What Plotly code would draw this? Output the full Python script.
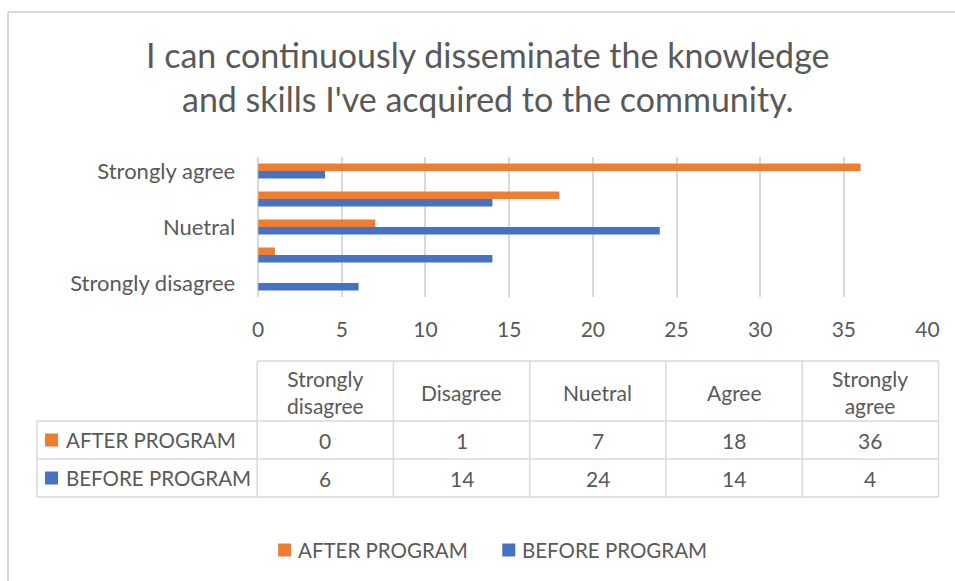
import plotly.graph_objects as go

# ---- data ----
categories = ["Strongly disagree", "Disagree", "Nuetral", "Agree", "Strongly agree"]
header_labels = ["Strongly<br>disagree", "Disagree", "Nuetral", "Agree", "Strongly<br>agree"]
labeled_categories = ["Strongly disagree", "Nuetral", "Strongly agree"]
after_values = [0, 1, 7, 18, 36]
before_values = [6, 14, 24, 14, 4]
series_names = ["AFTER PROGRAM", "BEFORE PROGRAM"]
x_ticks = [0, 5, 10, 15, 20, 25, 30, 35, 40]
title_text = "I can continuously disseminate the knowledge<br>and skills I've acquired to the community."

ORANGE = "#ED7D31"
BLUE = "#4472C4"
TEXT = "#595959"
GRID = "#D9D9D9"
FONT = "Lato, Carlito, Calibri, sans-serif"

W, H = 955, 581
XA, XB = 6.0, 0.9806  # observed horizontal mapping of the photographed page


def px(x):
    return ((x - XA) / XB) / W


def py(y):
    return 1 - y / H


fig = go.Figure()
# first trace drawn lowest inside each group -> BEFORE first so AFTER sits on top
fig.add_trace(go.Bar(y=categories, x=before_values, orientation="h", name=series_names[1],
                     marker=dict(color=BLUE, line=dict(width=0)), showlegend=False))
fig.add_trace(go.Bar(y=categories, x=after_values, orientation="h", name=series_names[0],
                     marker=dict(color=ORANGE, line=dict(width=0)), showlegend=False))

shapes = []
annotations = []

# outer chart border (top and left visible)
shapes.append(dict(type="line", xref="paper", yref="paper", x0=px(8), x1=px(990), y0=py(12), y1=py(12),
                   line=dict(color=GRID, width=2)))
shapes.append(dict(type="line", xref="paper", yref="paper", x0=px(8), x1=px(8), y0=py(12), y1=py(600),
                   line=dict(color=GRID, width=2)))

# ---- data table ----
tl, tc, tr = 37, 257, 938
t_top, t_head, t_mid, t_bot = 361, 421, 459, 497
ncol = len(categories)
colw = (tr - tc) / ncol
col_edges = [tc + i * colw for i in range(ncol + 1)]
line_style = dict(color=GRID, width=1.5)
shapes.append(dict(type="line", xref="paper", yref="paper", x0=px(tc), x1=px(tr), y0=py(t_top), y1=py(t_top), line=line_style))
for yy in (t_head, t_mid, t_bot):
    shapes.append(dict(type="line", xref="paper", yref="paper", x0=px(tl), x1=px(tr), y0=py(yy), y1=py(yy), line=line_style))
shapes.append(dict(type="line", xref="paper", yref="paper", x0=px(tl), x1=px(tl), y0=py(t_head), y1=py(t_bot), line=line_style))
for xe in col_edges:
    shapes.append(dict(type="line", xref="paper", yref="paper", x0=px(xe), x1=px(xe), y0=py(t_top), y1=py(t_bot), line=line_style))

cell_font = dict(family=FONT, size=21, color=TEXT)
upper_font = dict(family=FONT, size=20.5, color=TEXT)
for i, lab in enumerate(header_labels):
    cx = (col_edges[i] + col_edges[i + 1]) / 2
    annotations.append(dict(x=px(cx), y=py((t_top + t_head) / 2 + 1), xref="paper", yref="paper",
                            text=lab, showarrow=False, font=cell_font, xanchor="center", yanchor="middle"))
rows = [(series_names[0], after_values, ORANGE, (t_head + t_mid) / 2),
        (series_names[1], before_values, BLUE, (t_mid + t_bot) / 2)]
for name, vals, col, cy in rows:
    shapes.append(dict(type="rect", xref="paper", yref="paper", x0=px(45), x1=px(58), y0=py(cy - 6.5), y1=py(cy + 6.5),
                       fillcolor=col, line=dict(width=0)))
    annotations.append(dict(x=px(64), y=py(cy), xref="paper", yref="paper", text=name, showarrow=False,
                            font=upper_font, xanchor="left", yanchor="middle"))
    for i, v in enumerate(vals):
        cx = (col_edges[i] + col_edges[i + 1]) / 2
        annotations.append(dict(x=px(cx), y=py(cy), xref="paper", yref="paper", text=str(v), showarrow=False,
                                font=cell_font, xanchor="center", yanchor="middle"))

# ---- legend (drawn) ----
leg_y = 550
for (name, col, sx) in [(series_names[0], ORANGE, 278), (series_names[1], BLUE, 502)]:
    shapes.append(dict(type="rect", xref="paper", yref="paper", x0=px(sx), x1=px(sx + 13), y0=py(leg_y - 6.5), y1=py(leg_y + 6.5),
                       fillcolor=col, line=dict(width=0)))
    annotations.append(dict(x=px(sx + 18), y=py(leg_y), xref="paper", yref="paper", text=name, showarrow=False,
                            font=upper_font, xanchor="left", yanchor="middle"))

# title
annotations.append(dict(x=px(488), y=py(77), xref="paper", yref="paper", text=title_text, showarrow=False,
                        font=dict(family=FONT, size=34, color=TEXT), xanchor="center", yanchor="middle"))

fig.update_layout(
    width=W, height=H, autosize=False,
    margin=dict(l=0, r=0, t=0, b=0),
    paper_bgcolor="white", plot_bgcolor="white",
    barmode="group", bargap=0.46, bargroupgap=0,
    font=dict(family=FONT, color=TEXT, size=18),
    shapes=shapes, annotations=annotations,
    xaxis=dict(domain=[px(258), px(927)], range=[0, 40], tickvals=x_ticks,
               showgrid=True, gridcolor=GRID, gridwidth=1.5, zeroline=True, zerolinecolor=GRID, zerolinewidth=1.5,
               showline=False, ticks="", ticklabelstandoff=18,
               tickfont=dict(family=FONT, size=21, color=TEXT), fixedrange=True),
    yaxis=dict(domain=[py(297), py(157)], categoryorder="array", categoryarray=categories,
               tickvals=labeled_categories, showgrid=False, zeroline=False, showline=False, ticks="",
               ticklabelstandoff=22, tickfont=dict(family=FONT, size=22, color=TEXT), fixedrange=True),
)

fig.write_html("out.html", config={"displayModeBar": False},
               post_script="document.body.style.margin='0';document.body.style.overflow='hidden';")
